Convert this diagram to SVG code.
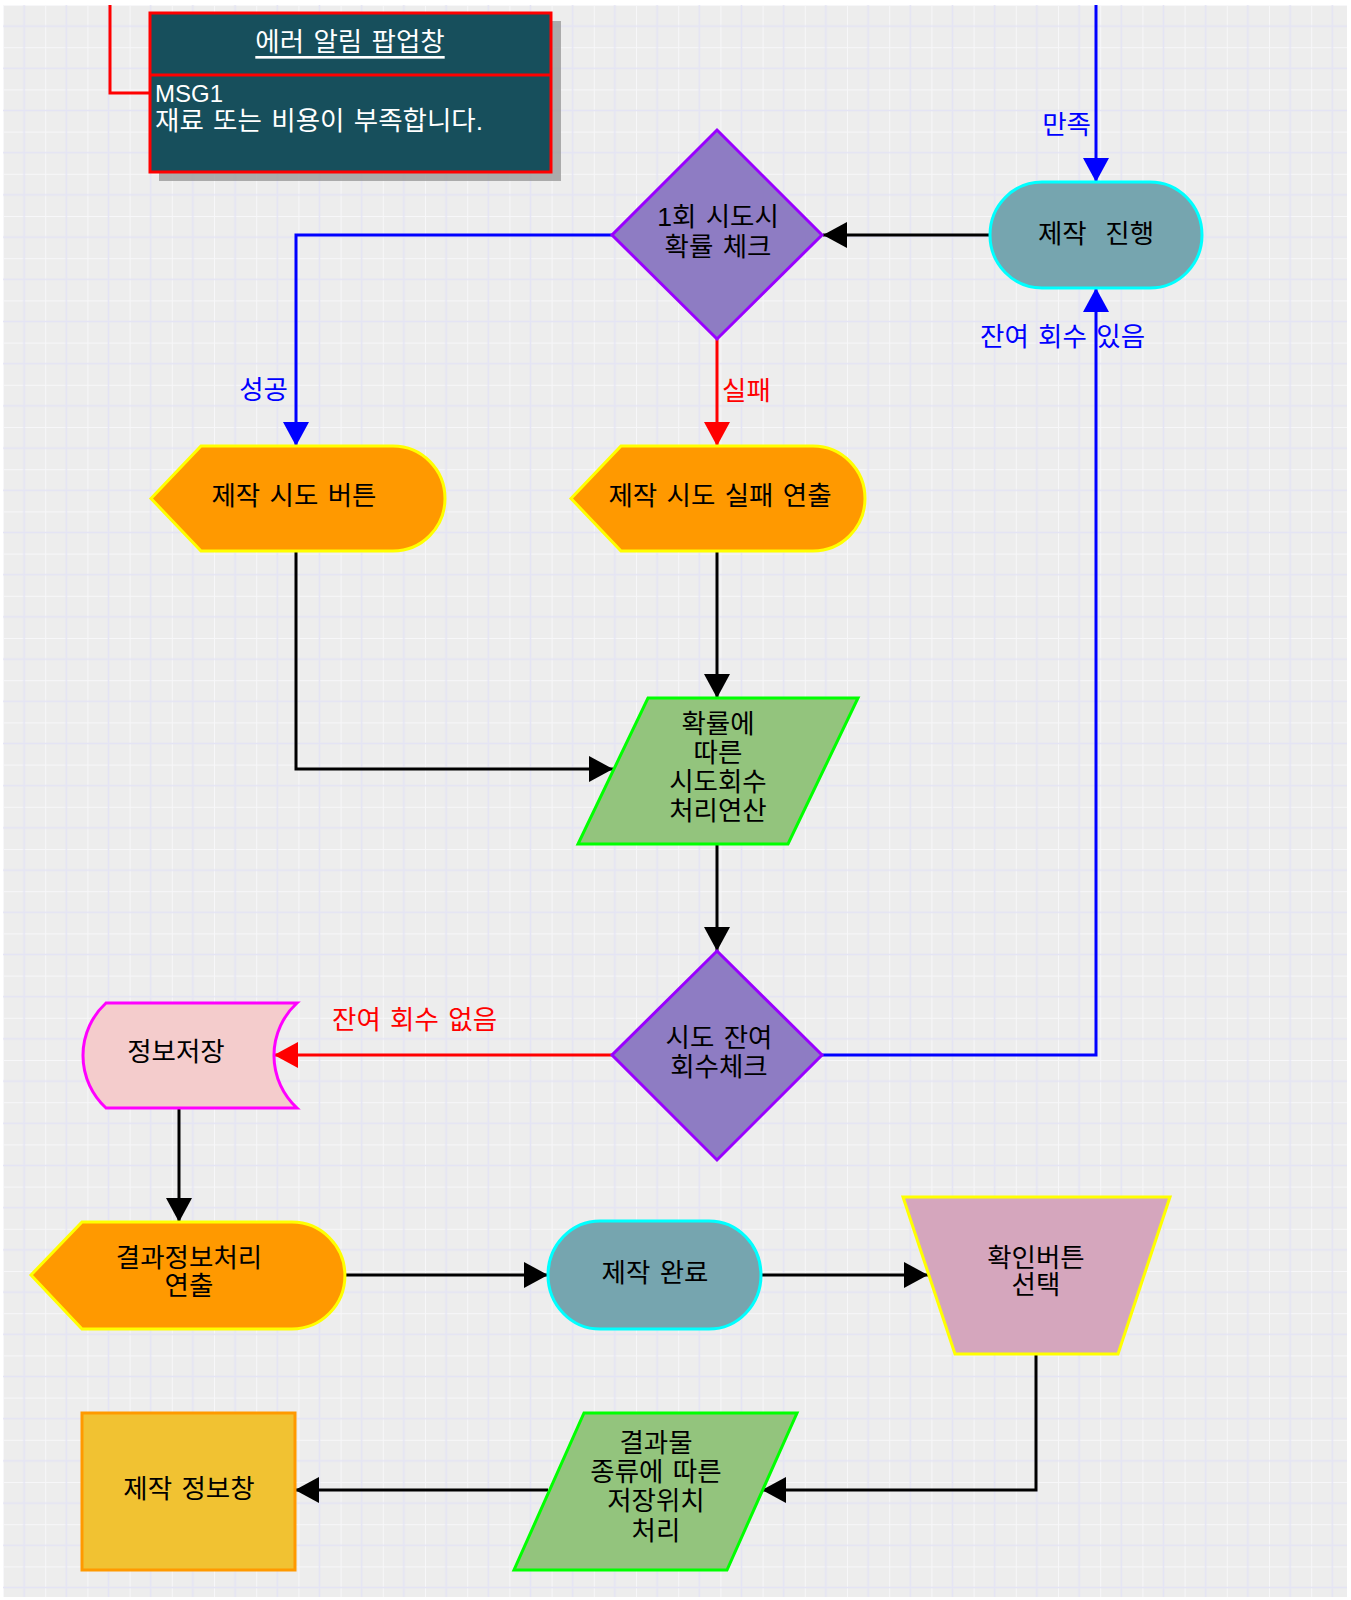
<svg xmlns="http://www.w3.org/2000/svg" width="1351" height="1600" viewBox="0 0 1351 1600">
<style>
text{font-family:'Liberation Sans','Noto Sans CJK KR',sans-serif;font-size:26.5px;word-spacing:2px;fill:#000;}
.c{text-anchor:middle;dominant-baseline:central;}
.w{fill:#fff;}
.lbl{dominant-baseline:central;}
.blue{fill:#0000FF;}
.red{fill:#FF0000;}
.ln{fill:none;stroke-width:3;stroke-linejoin:miter;}
.k{stroke:#000;marker-end:url(#ak);}
.b{stroke:#0000FF;marker-end:url(#ab);}
.r{stroke:#FF0000;marker-end:url(#ar);}
.disp{fill:#FF9900;stroke:#FFFF00;stroke-width:3;}
.term{fill:#76A5AF;stroke:#00FFFF;stroke-width:3;}
.dia{fill:#8E7CC3;stroke:#9900FF;stroke-width:3;}
.para{fill:#93C47D;stroke:#00FF00;stroke-width:3;}
</style>
<defs>
<pattern id="grid" x="3" y="5" width="42.2" height="42.2" patternUnits="userSpaceOnUse">
<rect width="42.2" height="42.2" fill="#EDEDED"/>
<path d="M0,0 H42.2 M0,0 V42.2" stroke="#F7F7F9" stroke-width="2"/>
<path d="M0,21.1 H42.2 M21.1,0 V42.2" stroke="#E4E4F4" stroke-width="1.5"/>
</pattern>
<marker id="ak" markerUnits="userSpaceOnUse" markerWidth="26" markerHeight="26" refX="24" refY="13" orient="auto"><path d="M0,0 L24,13 L0,26 Z" fill="#000"/></marker>
<marker id="ab" markerUnits="userSpaceOnUse" markerWidth="26" markerHeight="26" refX="24" refY="13" orient="auto"><path d="M0,0 L24,13 L0,26 Z" fill="#0000FF"/></marker>
<marker id="ar" markerUnits="userSpaceOnUse" markerWidth="26" markerHeight="26" refX="24" refY="13" orient="auto"><path d="M0,0 L24,13 L0,26 Z" fill="#FF0000"/></marker>
</defs>
<rect width="1351" height="1600" fill="#FFFFFF"/>
<rect x="3" y="5" width="1344" height="1592" fill="url(#grid)"/>

<g id="connectors">
<path class="ln" d="M110,5 V93 H150" stroke="#FF0000"/>
<path class="ln b" d="M1096,5 V182"/>
<path class="ln k" d="M990,235 H823"/>
<path class="ln b" d="M612,235 H296 V446"/>
<path class="ln r" d="M717,339 V446"/>
<path class="ln k" d="M296,551 V769 H613"/>
<path class="ln k" d="M717,551 V698"/>
<path class="ln k" d="M717,844 V951"/>
<path class="ln b" d="M822,1055 H1096 V288"/>
<path class="ln r" d="M612,1055 H274"/>
<path class="ln k" d="M179,1108 V1222"/>
<path class="ln k" d="M345,1275 H548"/>
<path class="ln k" d="M761,1275 H928"/>
<path class="ln k" d="M1036,1354 V1490 H762"/>
<path class="ln k" d="M548,1490 H295"/>
<text class="lbl blue" x="1091" y="125" text-anchor="end">만족</text>
<text class="lbl blue" x="980" y="337">잔여 회수 있음</text>
<text class="lbl blue" x="288" y="390" text-anchor="end">성공</text>
<text class="lbl red" x="722" y="391">실패</text>
<text class="lbl red" x="332" y="1020">잔여 회수 없음</text>
</g>

<g id="popup">
<rect x="159" y="21" width="402" height="160" fill="#9A9A9A" opacity="0.8"/>
<rect x="150" y="13" width="401" height="159" fill="#174F5C" stroke="#FF0000" stroke-width="3"/>
<line x1="150" y1="75" x2="551" y2="75" stroke="#FF0000" stroke-width="3"/>
<text class="c w" x="350" y="42" text-decoration="underline">에러 알림 팝업창</text>
<text class="w" x="155" y="102" style="font-size:24px">MSG1</text>
<text class="w" x="155" y="130">재료 또는 비용이 부족합니다.</text>
</g>

<g id="n_progress">
<rect class="term" x="990" y="182" width="212" height="106" rx="52" ry="53"/>
<text class="c" x="1096" y="234" xml:space="preserve">제작  진행</text>
</g>

<g id="n_check1">
<polygon class="dia" points="717,130 822,235 717,339 612,235"/>
<text class="c" x="718" y="217">1회 시도시</text>
<text class="c" x="718" y="247">확률 체크</text>
</g>

<g id="n_button">
<path class="disp" d="M151,498.5 L201,446 H393 A52,52.5 0 0 1 393,551 H201 Z"/>
<text class="c" x="294" y="496">제작 시도 버튼</text>
</g>

<g id="n_fail">
<path class="disp" d="M571,498.5 L621,446 H813 A52,52.5 0 0 1 813,551 H621 Z"/>
<text class="c" x="720" y="496">제작 시도 실패 연출</text>
</g>

<g id="n_calc">
<polygon class="para" points="648,698 858,698 788,844 578,844"/>
<text class="c" x="718" y="724">확률에</text>
<text class="c" x="718" y="753">따른</text>
<text class="c" x="718" y="782">시도회수</text>
<text class="c" x="718" y="811">처리연산</text>
</g>

<g id="n_check2">
<polygon class="dia" points="717,951 822,1055 717,1160 612,1055"/>
<text class="c" x="719" y="1038">시도 잔여</text>
<text class="c" x="719" y="1067">회수체크</text>
</g>

<g id="n_store">
<path d="M106,1003 H297 A71.4,71.4 0 0 0 297,1108 H106 A71.4,71.4 0 0 1 106,1003 Z" fill="#F4CCCC" stroke="#FF00FF" stroke-width="3"/>
<text class="c" x="176" y="1052">정보저장</text>
</g>

<g id="n_result">
<path class="disp" d="M31,1275 L82,1222 H292 A53,53.5 0 0 1 292,1329 H82 Z"/>
<text class="c" x="189" y="1258">결과정보처리</text>
<text class="c" x="189" y="1286">연출</text>
</g>

<g id="n_done">
<rect class="term" x="548" y="1221" width="213" height="108" rx="52" ry="54"/>
<text class="c" x="655" y="1273">제작 완료</text>
</g>

<g id="n_confirm">
<polygon points="903,1197 1170,1197 1118,1354 955,1354" fill="#D5A6BD" stroke="#FFFF00" stroke-width="3"/>
<text class="c" x="1036" y="1258">확인버튼</text>
<text class="c" x="1036" y="1285">선택</text>
</g>

<g id="n_save">
<polygon class="para" points="584,1413 797,1413 727,1570 514,1570"/>
<text class="c" x="656" y="1443">결과물</text>
<text class="c" x="656" y="1472">종류에 따른</text>
<text class="c" x="656" y="1501">저장위치</text>
<text class="c" x="656" y="1531">처리</text>
</g>

<g id="n_info">
<rect x="82" y="1413" width="213" height="157" fill="#F1C232" stroke="#FF9900" stroke-width="3"/>
<text class="c" x="189" y="1489">제작 정보창</text>
</g>
</svg>
